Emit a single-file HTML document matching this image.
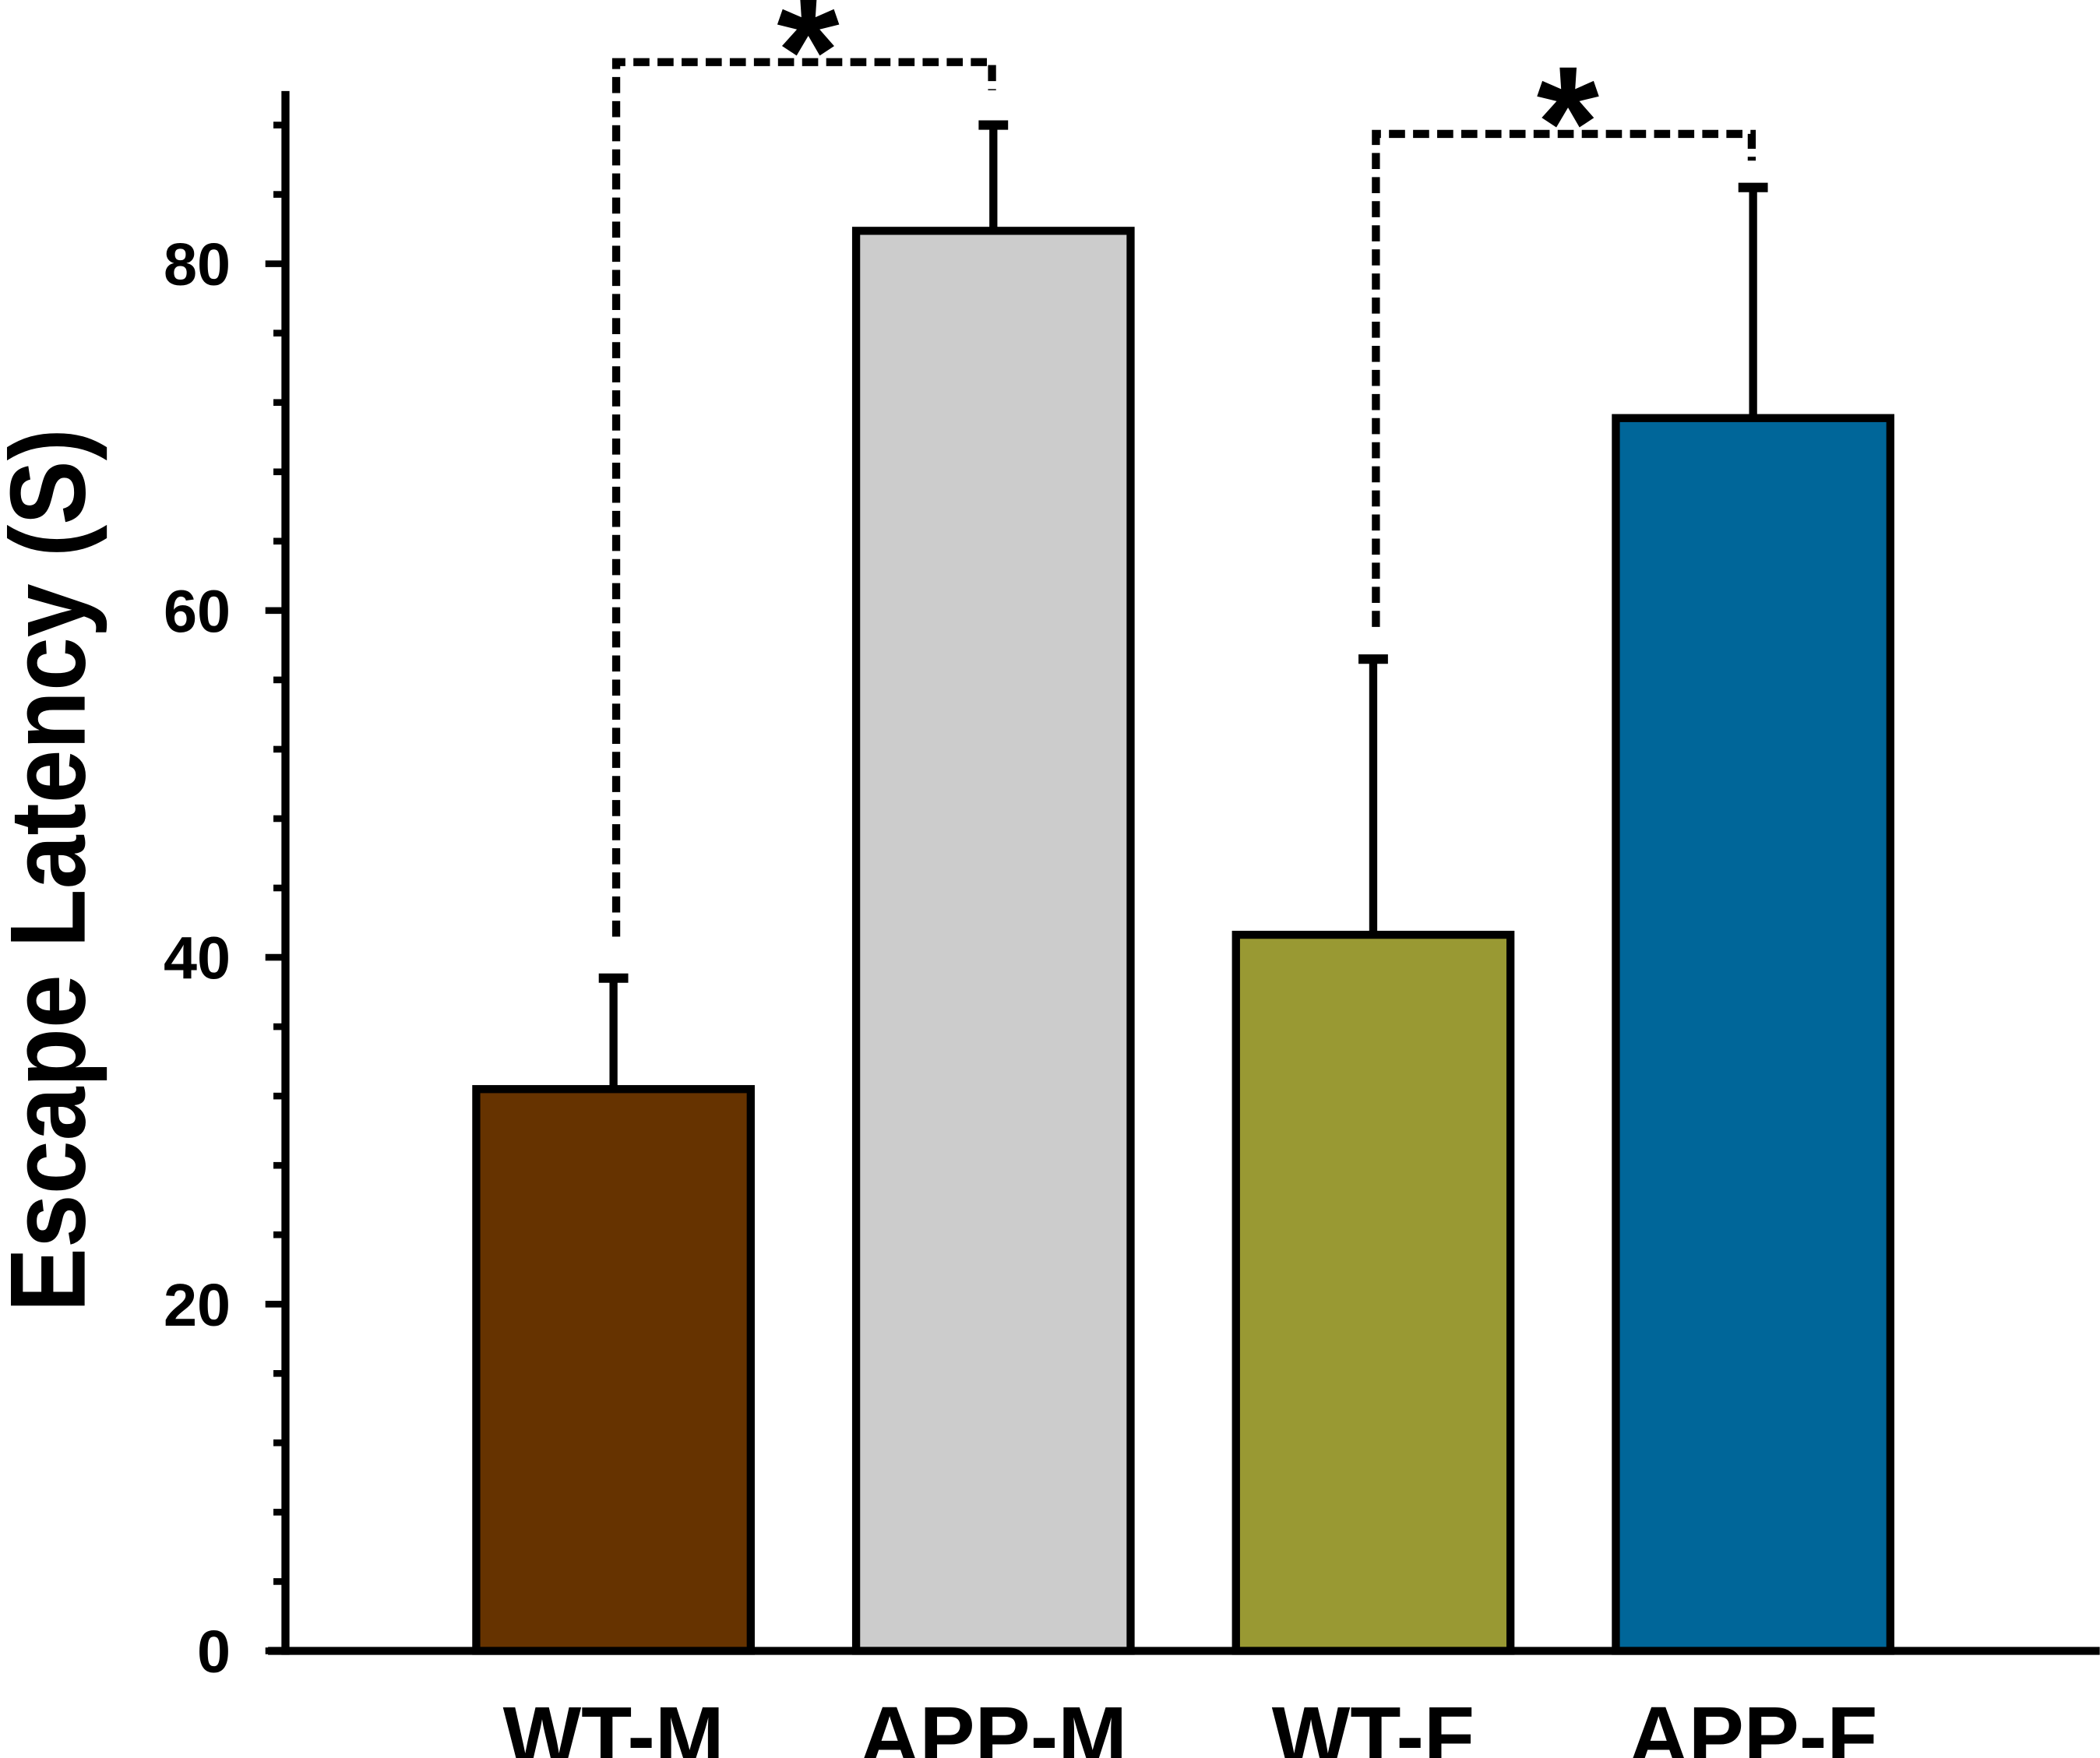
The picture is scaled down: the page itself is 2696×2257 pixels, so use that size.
<!DOCTYPE html>
<html><head><meta charset="utf-8"><style>html,body{margin:0;padding:0;background:#fff}svg{display:block}</style></head>
<body>
<svg id="chart" width="2696" height="2257" viewBox="0 0 1568 1313" xmlns="http://www.w3.org/2000/svg" font-family="Liberation Sans, Arial, sans-serif" font-weight="bold">
<g id="g"></g>
</svg>
<script>
const categories = ["WT-M","APP-M","WT-F","APP-F"];
const means = [32.4, 81.9, 41.3, 71.1];
const errors = [6.4, 6.1, 15.9, 13.3];
const colors = ["#663300","#cccccc","#999933","#006699"];
const yTicks = [0,20,40,60,80];
const sigPairs = [[0,1],[2,3]];
const NS="http://www.w3.org/2000/svg";
const g=document.getElementById('g');
const y0=1233, pxPerUnit=12.95;
const y=v=>y0-v*pxPerUnit;
const xCenter=i=>458+i*283.7;
const barW=205;
function el(t,a){const e=document.createElementNS(NS,t);for(const k in a)e.setAttribute(k,a[k]);g.appendChild(e);return e;}
let e=el('line',{x1:213,y1:68,x2:213,y2:1236,stroke:'#000','stroke-width':6});


e=el('line',{x1:200,y1:1233,x2:1568,y2:1233,stroke:'#000','stroke-width':6});


for(let v=0;v<=88;v+=4){
  const major=v%20===0;
  e=el('line',{x1:major?198:204,y1:y(v),x2:213,y2:y(v),stroke:'#000','stroke-width':5});
  
  
}
yTicks.forEach(v=>{
  const t=el('text',{x:172,y:y(v)+16,'text-anchor':'end','font-size':45});
  t.textContent=v;
  
  
});
const tt=el('text',{transform:'translate(63,650) rotate(-90)','text-anchor':'middle','font-size':80,textLength:660,lengthAdjust:'spacingAndGlyphs'});
tt.textContent='Escape Latency (S)';


categories.forEach((c,i)=>{
  const cx=xCenter(i);
  const top=y(means[i]), et=y(means[i]+errors[i]);
  let l=el('line',{x1:cx,y1:top,x2:cx,y2:et,stroke:'#000','stroke-width':6});
  
  
  l=el('line',{x1:cx-11,y1:et,x2:cx+11,y2:et,stroke:'#000','stroke-width':7});
  
  
  const r=el('rect',{x:cx-barW/2,y:top,width:barW,height:y0-top,fill:colors[i],stroke:'#000','stroke-width':6});
  
  
  const t=el('text',{x:cx,y:1318,'text-anchor':'middle','font-size':62});
  t.textContent=c;
  
  
});
sigPairs.forEach(([a,b],k)=>{
  const xa=xCenter(a)+2, xb=xCenter(b)-1;
  const ya=y(means[a]+errors[a])-(k===0?31:24), yb=y(means[b]+errors[b])-(k===0?26:20);
  const topY=Math.min(y(means[a]+errors[a]),y(means[b]+errors[b]))-(k===0?47:40);
  const p=el('path',{d:`M${xa},${ya} V${topY} H${xb} V${yb}`,fill:'none',stroke:'#000','stroke-width':6,'stroke-dasharray':'12,6'});
  
  
  const s=el('text',{x:(xa+xb)/2+3,y:topY+33,'text-anchor':'middle','font-size':120});
  s.textContent='*';
  
  
});
</script>
</body></html>
